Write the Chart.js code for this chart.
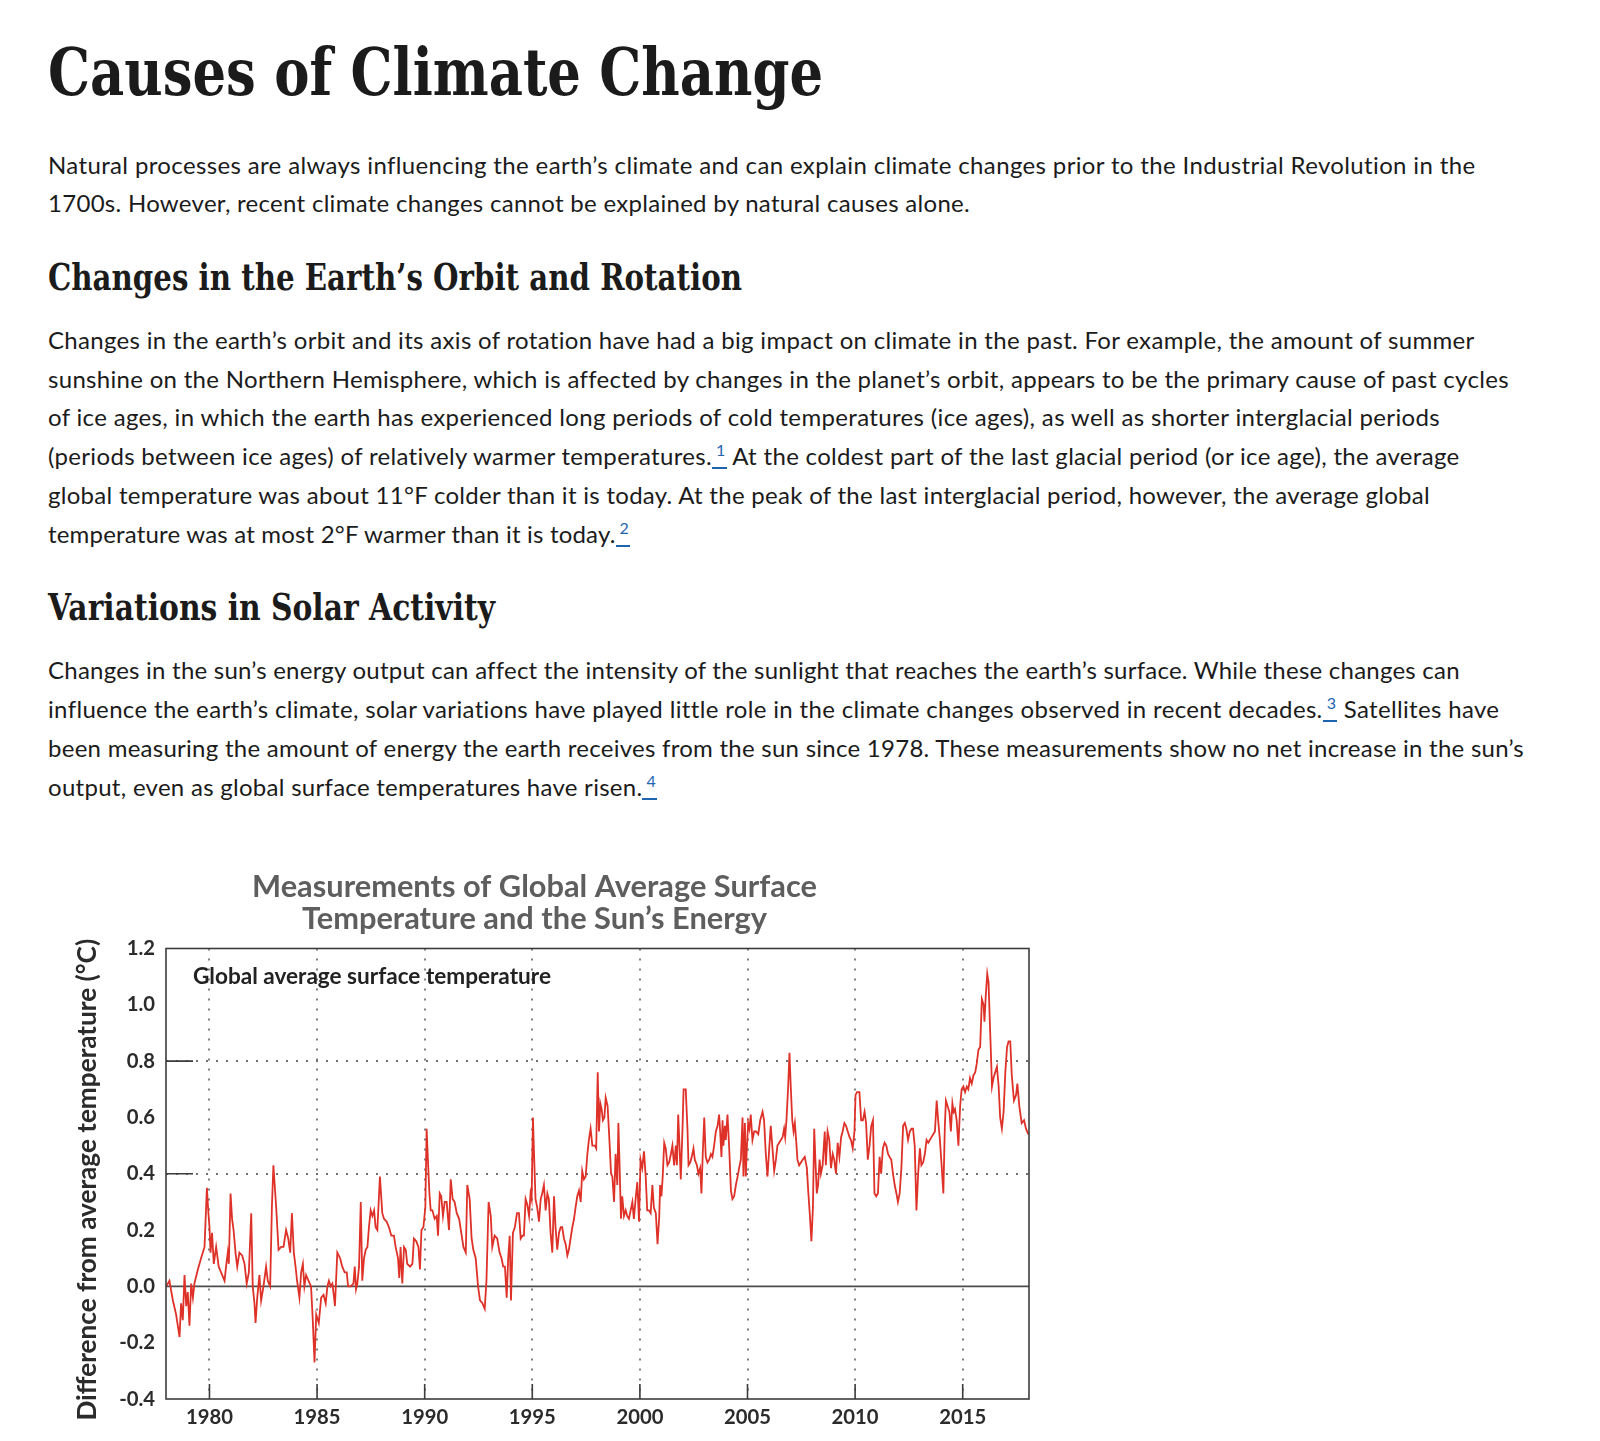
<!DOCTYPE html>
<html>
<head>
<meta charset="utf-8">
<script src="https://cdn.jsdelivr.net/npm/chart.js@4.4.1/dist/chart.umd.min.js"></script>
<style>
html,body{margin:0;padding:0;background:#fff;}
body{width:1600px;height:1441px;position:relative;overflow:hidden;color:#1b1b1b;}
.t{position:absolute;left:48px;top:0;white-space:nowrap;}
.b{font-family:Lato,"Open Sans",sans-serif;font-size:24px;line-height:24px;}
.h{font-family:"DejaVu Serif",serif;font-weight:bold;transform-origin:0 0;line-height:1;color:#1b1b1b;}
.fn{display:inline-block;color:#1f64b0;font-size:16px;line-height:16px;border-bottom:2px solid #1f64b0;padding:0 1px 0 4px;}
.fn span{position:relative;top:-9px;}
#c{position:absolute;left:40px;top:840px;width:1000px;height:601px;}
</style>
</head>
<body>
<div class="t h" data-base="95" data-w="775" style="font-size:66px">Causes of Climate Change</div>

<div class="t b" data-base="173.5" data-w="1428">Natural processes are always influencing the earth’s climate and can explain climate changes prior to the Industrial Revolution in the</div>
<div class="t b" data-base="212.3" data-w="922">1700s. However, recent climate changes cannot be explained by natural causes alone.</div>

<div class="t h" data-base="290" data-w="694" style="font-size:37px">Changes in the Earth’s Orbit and Rotation</div>

<div class="t b" data-base="348.8" data-w="1427">Changes in the earth’s orbit and its axis of rotation have had a big impact on climate in the past. For example, the amount of summer</div>
<div class="t b" data-base="387.6" data-w="1460">sunshine on the Northern Hemisphere, which is affected by changes in the planet’s orbit, appears to be the primary cause of past cycles</div>
<div class="t b" data-base="426.4" data-w="1392">of ice ages, in which the earth has experienced long periods of cold temperatures (ice ages), as well as shorter interglacial periods</div>
<div class="t b" data-base="465.2" data-w="1412">(periods between ice ages) of relatively warmer temperatures.<span class="fn"><span>1</span></span> At the coldest part of the last glacial period (or ice age), the average</div>
<div class="t b" data-base="504" data-w="1382">global temperature was about 11°F colder than it is today. At the peak of the last interglacial period, however, the average global</div>
<div class="t b" data-base="542.8" data-w="582">temperature was at most 2°F warmer than it is today.<span class="fn"><span>2</span></span></div>

<div class="t h" data-base="619.5" data-w="447" style="font-size:37px">Variations in Solar Activity</div>

<div class="t b" data-base="679.4" data-w="1411">Changes in the sun’s energy output can affect the intensity of the sunlight that reaches the earth’s surface. While these changes can</div>
<div class="t b" data-base="718.2" data-w="1451">influence the earth’s climate, solar variations have played little role in the climate changes observed in recent decades.<span class="fn"><span>3</span></span> Satellites have</div>
<div class="t b" data-base="757" data-w="1476">been measuring the amount of energy the earth receives from the sun since 1978. These measurements show no net increase in the sun’s</div>
<div class="t b" data-base="795.8" data-w="609">output, even as global surface temperatures have risen.<span class="fn"><span>4</span></span></div>

<canvas id="c" width="1000" height="601"></canvas>

<script>
// ---------- text fitting ----------
document.querySelectorAll('.t').forEach(function(el){
  var target = +el.dataset.w;
  var w = el.getBoundingClientRect().width;
  if (el.classList.contains('h')) {
    el.style.transform = 'scaleX(' + (target / w) + ')';
  } else {
    var n = el.textContent.length;
    el.style.letterSpacing = ((target - w) / n) + 'px';
  }
  var m = document.createElement('i');
  m.style.cssText = 'display:inline-block;width:0;height:0;vertical-align:baseline;';
  el.insertBefore(m, el.firstChild);
  var base = m.getBoundingClientRect().bottom;
  el.style.top = (+el.dataset.base - base) + 'px';
  el.removeChild(m);
});

// ---------- chart data ----------
const titleLines = ['Measurements of Global Average Surface', 'Temperature and the Sun’s Energy'];
const yTitle = 'Difference from average temperature (°C)';
const seriesLabel = 'Global average surface temperature';
const xTicks = [1980, 1985, 1990, 1995, 2000, 2005, 2010, 2015];
const yTicks = [-0.4, -0.2, 0.0, 0.2, 0.4, 0.6, 0.8, 1.0, 1.2];
const dottedY = [0.4, 0.8];
const xMin = 1977.98, xMax = 2018.08;

const years = [
1977.99,1978.14,1978.30,1978.45,1978.53,1978.61,1978.68,1978.76,1978.84,1978.92,1978.99,1979.07,1979.15,1979.23,1979.30,1979.46,1979.61,1979.77,1979.88,1979.95,1980.00,1980.05,1980.12,1980.20,1980.31,1980.43,1980.54,1980.70,1980.77,1980.85,1980.90,1980.98,1981.05,1981.12,1981.21,1981.29,1981.39,1981.52,1981.63,1981.73,1981.83,1981.94,1982.01,1982.09,1982.14,1982.22,1982.32,1982.40,1982.51,1982.63,1982.71,1982.82,1982.90,1982.97,1983.10,1983.21,1983.33,1983.44,1983.56,1983.66,1983.75,1983.83,1983.92,1984.00,1984.07,1984.18,1984.26,1984.34,1984.41,1984.49,1984.60,1984.72,1984.80,1984.88,1984.96,1985.08,1985.19,1985.30,
1985.40,1985.48,1985.55,1985.63,1985.71,1985.79,1985.83,1985.94,1986.07,1986.17,1986.28,1986.38,1986.44,1986.56,1986.69,1986.75,1986.81,1986.87,1986.95,1987.03,1987.10,1987.18,1987.26,1987.34,1987.41,1987.49,1987.57,1987.65,1987.72,1987.80,1987.92,1988.03,1988.11,1988.23,1988.34,1988.45,1988.57,1988.65,1988.76,1988.82,1988.88,1988.96,1989.04,1989.12,1989.19,1989.32,1989.43,1989.50,1989.61,1989.71,1989.78,1989.85,1989.94,1990.03,1990.09,1990.15,1990.22,1990.28,1990.36,1990.46,1990.56,1990.62,1990.70,1990.77,1990.85,1990.93,1991.02,1991.13,1991.21,1991.30,1991.39,1991.49,1991.60,1991.70,1991.80,1991.91,1991.98,1992.09,1992.18,1992.26,1992.37,1992.48,1992.57,1992.68,1992.79,1992.87,1992.97,1993.07,1993.14,1993.25,
1993.37,1993.48,1993.57,1993.65,1993.73,1993.81,1993.88,1993.95,1994.01,1994.10,1994.19,1994.29,1994.38,1994.46,1994.54,1994.61,1994.69,1994.77,1994.85,1994.92,1994.97,1995.03,1995.09,1995.15,1995.23,1995.31,1995.39,1995.46,1995.54,1995.62,1995.70,1995.77,1995.85,1995.93,1996.01,1996.08,1996.16,1996.24,1996.32,1996.39,1996.47,1996.55,1996.63,1996.70,1996.78,1996.86,1996.94,1997.01,1997.09,1997.17,1997.25,1997.32,1997.40,1997.48,1997.56,1997.63,1997.71,1997.79,1997.91,1997.97,1998.04,1998.10,1998.16,1998.22,1998.28,1998.35,1998.41,1998.50,1998.59,1998.66,1998.72,1998.80,1998.87,1998.95,1999.00,1999.06,1999.12,1999.18,1999.26,1999.34,1999.41,1999.49,1999.57,1999.65,1999.72,1999.80,1999.88,1999.96,2000.03,2000.11,2000.19,2000.27,2000.34,2000.42,2000.50,2000.58,2000.65,
2000.74,2000.82,2000.90,2000.94,2001.00,2001.06,2001.13,2001.20,2001.28,2001.36,2001.44,2001.51,2001.59,2001.67,2001.72,2001.78,2001.84,2001.90,2001.98,2002.03,2002.13,2002.21,2002.26,2002.34,2002.41,2002.49,2002.55,2002.65,2002.72,2002.80,2002.86,2002.92,2002.99,2003.06,2003.14,2003.22,2003.30,2003.37,2003.45,2003.53,2003.61,2003.68,2003.73,2003.79,2003.84,2003.88,2003.95,2003.99,2004.07,2004.15,2004.23,2004.30,2004.38,2004.46,2004.54,2004.61,2004.69,2004.77,2004.81,2004.88,2004.92,2004.97,2005.03,2005.09,2005.15,2005.23,2005.31,2005.40,2005.50,2005.59,2005.70,2005.77,2005.85,2005.93,2006.01,2006.08,2006.16,2006.24,2006.32,2006.39,2006.47,2006.55,2006.63,2006.70,2006.75,2006.81,2006.89,2006.95,2007.01,2007.08,2007.14,2007.20,2007.26,2007.32,2007.40,2007.48,2007.56,2007.66,2007.76,2007.82,2007.90,2007.97,2008.04,2008.10,2008.16,2008.22,2008.28,2008.35,2008.41,2008.49,2008.59,
2008.64,2008.72,2008.80,2008.88,2008.96,2009.03,2009.11,2009.19,2009.27,2009.35,2009.42,2009.50,2009.58,2009.66,2009.74,2009.81,2009.89,2009.97,2010.02,2010.09,2010.20,2010.28,2010.36,2010.44,2010.51,2010.59,2010.67,2010.75,2010.83,2010.90,2010.98,2011.06,2011.14,2011.21,2011.29,2011.37,2011.45,2011.53,2011.60,2011.68,2011.76,2011.84,2011.92,2011.99,2012.07,2012.15,2012.23,2012.31,2012.38,2012.46,2012.54,2012.62,2012.69,2012.77,2012.85,2012.93,2013.01,2013.08,2013.16,2013.24,2013.32,2013.40,2013.47,2013.55,2013.63,2013.71,2013.79,2013.86,2013.94,2014.02,2014.10,2014.17,2014.22,2014.30,2014.38,2014.45,2014.52,2014.58,2014.64,2014.72,2014.80,2014.88,2014.95,2015.03,2015.11,2015.19,2015.26,2015.34,2015.42,2015.50,2015.58,2015.65,2015.73,2015.81,2015.89,2015.97,2016.01,2016.07,2016.14,2016.20,2016.26,2016.31,2016.36,2016.43,2016.51,2016.59,2016.67,2016.74,2016.82,2016.90,2016.98,2017.06,2017.13,2017.21,2017.28,2017.38,2017.48,2017.54,2017.63,2017.74,2017.85,2017.94,2018.05
];
const temps = [
0.00,0.02,-0.05,-0.10,-0.14,-0.18,-0.06,-0.12,0.04,-0.07,-0.02,-0.14,0.01,-0.04,0.01,0.06,0.10,0.14,0.35,0.26,0.21,0.12,0.19,0.08,0.14,0.07,0.05,0.02,0.07,0.12,0.08,0.33,0.24,0.20,0.12,0.07,0.12,0.11,0.08,0.01,0.05,0.26,0.00,-0.06,-0.13,-0.04,0.04,-0.05,0.00,0.07,0.02,0.00,0.28,0.43,0.28,0.13,0.14,0.14,0.20,0.17,0.12,0.26,0.12,0.07,0.02,-0.04,0.05,0.08,0.00,0.04,0.02,0.00,-0.12,-0.27,-0.10,-0.13,-0.04,-0.03,
-0.06,0.00,0.02,0.00,0.01,-0.04,-0.07,0.12,0.10,0.07,0.05,0.05,0.00,0.00,0.01,0.07,-0.01,0.01,0.07,0.30,0.02,0.10,0.13,0.14,0.21,0.27,0.25,0.27,0.21,0.20,0.39,0.26,0.24,0.23,0.21,0.18,0.18,0.14,0.10,0.03,0.14,0.01,0.14,0.13,0.08,0.07,0.08,0.17,0.16,0.14,0.06,0.20,0.21,0.28,0.56,0.45,0.33,0.27,0.27,0.24,0.25,0.18,0.33,0.32,0.25,0.30,0.30,0.20,0.38,0.31,0.30,0.26,0.24,0.19,0.14,0.12,0.36,0.31,0.17,0.13,0.10,0.00,-0.05,-0.06,-0.08,0.02,0.30,0.25,0.14,0.18,
0.17,0.12,0.10,0.07,0.07,-0.04,0.10,0.18,-0.05,0.19,0.21,0.26,0.26,0.17,0.18,0.18,0.31,0.29,0.25,0.33,0.31,0.60,0.45,0.31,0.28,0.23,0.31,0.33,0.36,0.27,0.33,0.31,0.19,0.12,0.32,0.21,0.13,0.19,0.21,0.21,0.17,0.15,0.11,0.13,0.17,0.21,0.24,0.28,0.32,0.34,0.30,0.41,0.38,0.39,0.47,0.52,0.56,0.50,0.50,0.49,0.76,0.55,0.65,0.63,0.59,0.60,0.67,0.64,0.51,0.40,0.39,0.30,0.47,0.36,0.58,0.42,0.24,0.32,0.25,0.27,0.25,0.24,0.27,0.30,0.24,0.31,0.37,0.23,0.45,0.42,0.48,0.39,0.27,0.27,0.26,0.36,0.28,
0.26,0.15,0.25,0.36,0.32,0.39,0.51,0.49,0.43,0.44,0.47,0.50,0.43,0.50,0.43,0.61,0.50,0.38,0.56,0.70,0.70,0.56,0.43,0.44,0.46,0.49,0.45,0.43,0.40,0.42,0.33,0.47,0.60,0.46,0.44,0.45,0.47,0.46,0.50,0.55,0.57,0.61,0.55,0.46,0.59,0.50,0.57,0.52,0.61,0.49,0.34,0.31,0.32,0.36,0.39,0.42,0.45,0.60,0.39,0.58,0.39,0.49,0.58,0.56,0.61,0.52,0.55,0.55,0.54,0.59,0.62,0.59,0.47,0.39,0.49,0.57,0.49,0.41,0.45,0.50,0.51,0.52,0.53,0.56,0.53,0.59,0.71,0.83,0.71,0.59,0.55,0.58,0.52,0.45,0.43,0.44,0.45,0.46,0.42,0.34,0.25,0.16,0.28,0.56,0.44,0.33,0.36,0.45,0.40,0.43,0.55,
0.43,0.55,0.52,0.42,0.47,0.45,0.40,0.51,0.46,0.53,0.55,0.58,0.57,0.55,0.53,0.52,0.49,0.55,0.68,0.69,0.69,0.59,0.59,0.62,0.58,0.45,0.50,0.57,0.59,0.33,0.32,0.33,0.46,0.40,0.49,0.51,0.50,0.47,0.46,0.45,0.40,0.36,0.33,0.30,0.33,0.42,0.57,0.58,0.56,0.52,0.55,0.56,0.56,0.50,0.27,0.40,0.49,0.43,0.44,0.47,0.52,0.51,0.52,0.53,0.54,0.55,0.66,0.59,0.52,0.43,0.33,0.57,0.66,0.64,0.62,0.55,0.65,0.62,0.63,0.59,0.50,0.64,0.70,0.71,0.69,0.71,0.70,0.74,0.72,0.75,0.76,0.79,0.84,0.85,1.02,1.00,0.94,1.03,1.11,1.08,0.94,0.83,0.71,0.74,0.76,0.78,0.71,0.60,0.56,0.62,0.76,0.85,0.87,0.87,0.75,0.66,0.68,0.72,0.64,0.58,0.59,0.56,0.54
];

// ---------- chart ----------
const fam = 'Lato, "Open Sans", sans-serif';
function fitSize(text, weight, target){
  const c = document.createElement('canvas').getContext('2d');
  c.font = weight + ' 100px ' + fam;
  return 100 * target / c.measureText(text).width;
}
const tickSize = fitSize('1980', 'bold', 47);
const titleSize = fitSize(titleLines[0], 'bold', 565);
const yTitleSize = fitSize(yTitle, 'bold', 482);
const labelSize = fitSize(seriesLabel, 'bold', 358);

const framePlugin = {
  id: 'frame',
  beforeDatasetsDraw(chart){
    const {ctx, chartArea: a} = chart;
    const y0 = chart.scales.y.getPixelForValue(0);
    ctx.save();
    ctx.strokeStyle = '#4d4d4d'; ctx.lineWidth = 1.6;
    ctx.beginPath(); ctx.moveTo(a.left, y0); ctx.lineTo(a.right, y0); ctx.stroke();
    ctx.restore();
  },
  afterDatasetsDraw(chart){
    const {ctx, chartArea: a, scales: {x, y}} = chart;
    ctx.save();
    ctx.strokeStyle = '#3c3c3c'; ctx.lineWidth = 1.6;
    ctx.strokeRect(a.left, a.top, a.right - a.left, a.bottom - a.top);
    ctx.beginPath();
    dottedY.forEach(v => { const p = y.getPixelForValue(v); ctx.moveTo(a.left, p); ctx.lineTo(a.left + 27, p); });
    xTicks.forEach(v => { const p = x.getPixelForValue(v); ctx.moveTo(p, a.bottom); ctx.lineTo(p, a.bottom - 15); });
    ctx.stroke();
    ctx.fillStyle = '#222';
    ctx.font = 'bold ' + labelSize + 'px ' + fam;
    ctx.textBaseline = 'middle'; ctx.textAlign = 'left';
    ctx.fillText(seriesLabel, a.left + 27, a.top + 28.5);
    // rotated y-axis title
    ctx.translate(48, (a.top + a.bottom) / 2 + 6);
    ctx.rotate(-Math.PI / 2);
    ctx.fillStyle = '#2b2b2b';
    ctx.font = 'bold ' + yTitleSize + 'px ' + fam;
    ctx.textAlign = 'center'; ctx.textBaseline = 'middle';
    ctx.fillText(yTitle, 0, 0);
    ctx.restore();
  }
};

const n = Math.min(years.length, temps.length);
const points = [];
for (let i = 0; i < n; i++) points.push({x: years[i], y: temps[i]});

new Chart(document.getElementById('c'), {
  type: 'line',
  data: {datasets: [{label: seriesLabel, data: points, borderColor: '#de3128', borderWidth: 1.8,
    pointRadius: 0, tension: 0, fill: false}]},
  options: {
    responsive: false, animation: false, events: [],
    layout: {padding: {left: 0, right: 11, top: 0, bottom: 0}},
    plugins: {
      legend: {display: false}, tooltip: {enabled: false},
      title: {display: true, text: titleLines, color: '#5e5e5e',
        font: {family: fam, size: titleSize, weight: 'bold', lineHeight: 32 / titleSize},
        padding: {top: 31, bottom: 13.5}}
    },
    scales: {
      x: {type: 'linear', min: xMin, max: xMax,
        afterBuildTicks: s => { s.ticks = xTicks.map(v => ({value: v})); },
        afterFit: s => { s.height = 42; },
        grid: {drawTicks: false, color: '#808080', lineWidth: 2},
        border: {display: false, dash: [2, 8]},
        ticks: {padding: 6, color: '#2b2b2b', autoSkip: false, maxRotation: 0,
          font: {family: fam, size: tickSize, weight: 'bold'}, callback: v => String(v)}},
      y: {type: 'linear', min: -0.4, max: 1.2,
        afterBuildTicks: s => { s.ticks = yTicks.map(v => ({value: v})); },
        afterFit: s => { s.width = 126; },
        grid: {drawTicks: false, lineWidth: 2,
          color: c => (c.tick && dottedY.some(d => Math.abs(d - c.tick.value) < 1e-9)) ? '#707070' : 'rgba(0,0,0,0)'},
        border: {display: false, dash: [2, 8]},
        ticks: {padding: 11, color: '#2b2b2b', autoSkip: false,
          font: {family: fam, size: tickSize, weight: 'bold'}, callback: v => Number(v).toFixed(1)},
        title: {display: false}}
    }
  },
  plugins: [framePlugin]
});
</script>
</body>
</html>
